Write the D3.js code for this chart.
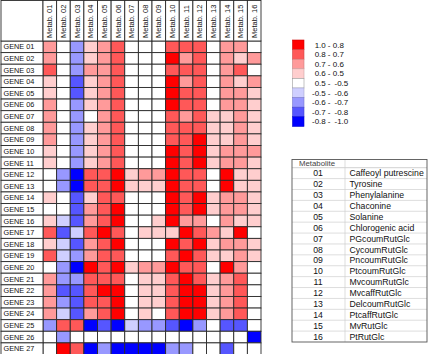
<!DOCTYPE html>
<html lang="en">
<head>
<meta charset="UTF-8">
<script src="https://d3js.org/d3.v7.min.js"></script>
<title>Gene / metabolite correlation heatmap</title>
<style>
  body { margin: 0; background: #fff; }
  text { font-family: "Liberation Sans", Arial, sans-serif; fill: #111; }
</style>
</head>
<body>
<div id="chart"></div>
<script>
// metabolite ids (columns) and their names (table on the right)
const metabIds = ["01","02","03","04","05","06","07","08","09","10","11","12","13","14","15","16"];
const metabNames = ["Caffeoyl putrescine","Tyrosine","Phenylalanine","Chaconine","Solanine",
  "Chlorogenic acid","PGcoumRutGlc","CycoumRutGlc","PncoumRutGlc","PtcoumRutGlc",
  "MvcoumRutGlc","MvcaffRutGlc","DelcoumRutGlc","PtcaffRutGlc","MvRutGlc","PtRutGlc"];

const genes = ["GENE 01","GENE 02","GENE 03","GENE 04","GENE 05","GENE 06","GENE 07","GENE 08","GENE 09",
  "GENE 10","GENE 11","GENE 12","GENE 13","GENE 14","GENE 15","GENE 16","GENE 17","GENE 18",
  "GENE 19","GENE 20","GENE 21","GENE 22","GENE 23","GENE 24","GENE 25","GENE 26","GENE 27"];

// correlation per gene (row) x metabolite (column)
const corr = [
  [.65,0,-.65,.55,.65,.75,0,0,0,.75,.75,.75,0,.65,.65,0],
  [.65,0,-.65,.55,.65,.75,0,0,0,.86,.65,.75,0,.65,.55,.65],
  [.75,0,-.65,.65,.65,.75,0,0,0,.75,.75,.75,0,.65,.75,0],
  [.55,0,-.75,.55,.65,.75,0,0,0,.86,.65,.75,0,.65,.55,.65],
  [.55,0,-.75,.55,.65,.75,0,0,0,.86,.75,.75,0,.65,.65,.55],
  [.65,0,-.65,.55,.65,.75,0,0,0,.86,.75,.75,0,.65,.65,.55],
  [.65,0,-.65,0,.65,.75,0,0,0,.75,.65,.75,.55,.55,.65,.55],
  [.65,0,-.65,.55,.65,.75,0,0,0,.75,.75,.75,.55,.55,.65,.55],
  [.65,0,-.65,.55,.65,.75,0,0,0,.75,.75,.86,.55,.55,.65,.55],
  [.55,0,-.65,.55,.65,.75,0,0,0,.86,.75,.86,.55,.65,.65,.65],
  [.55,0,-.65,.55,.65,.75,0,0,0,.86,.75,.86,.55,.65,.65,.55],
  [0,-.65,-.88,.75,.75,.86,.55,.65,.65,.86,.75,.75,0,.86,.55,.55],
  [0,-.65,-.88,.75,.75,.86,.55,.55,.55,.86,.75,.75,0,.86,.55,.55],
  [.55,0,-.75,.55,.75,.75,0,0,0,.86,.75,.86,.55,.65,.65,.55],
  [0,0,-.75,.65,.75,.86,0,0,0,.86,.75,.86,.55,.65,.65,.55],
  [.55,-.55,-.75,.65,.75,.86,0,0,.55,.86,.65,.65,0,.65,.55,.55],
  [.75,-.75,-.55,.75,.86,.75,0,.55,.55,.55,.86,.75,.65,.55,.86,0],
  [.55,-.55,-.75,.65,.75,.86,0,0,0,.86,.75,.86,.55,.65,.65,.55],
  [.75,-.55,-.65,.65,.75,.75,0,0,0,.75,.86,.75,.55,.55,.65,.55],
  [0,-.65,-.88,.86,.75,.86,.55,.65,.65,.86,.75,.75,0,.86,.65,0],
  [.65,-.65,-.65,.75,.75,.75,0,.55,.55,.75,.86,.75,.55,.65,.75,0],
  [.65,-.75,-.75,.75,.86,.86,0,.55,.55,.75,.86,.86,.55,.65,.75,0],
  [.65,-.65,-.75,.75,.75,.86,0,.55,.55,.75,.86,.86,.55,.65,.75,0],
  [.65,-.55,-.75,.65,.75,.86,0,.55,0,.75,.86,.86,.55,.65,.75,0],
  [-.65,.75,.75,-.88,-.75,-.88,-.55,-.65,-.65,-.75,-.88,-.65,0,-.75,-.75,0],
  [0,-.65,0,0,0,0,0,0,0,0,0,0,0,0,0,-.88],
  [0,.86,.75,-.88,-.65,-.88,-.88,-.88,-.88,-.65,-.65,0,0,-.75,0,0]
];

// colour classes, top (red) to bottom (blue)
const legendFrom = ["1.0","0.8","0.7","0.6","0.5","-0.5","-0.6","-0.7","-0.8"];
const legendTo   = ["0.8","0.7","0.6","0.5","-0.5","-0.6","-0.7","-0.8","-1.0"];
const classColors = ["#ff0000","#ff5858","#ff9a9a","#ffcece","#ffffff","#cfcfff","#9898ff","#5656ff","#0000ff"];

const W = 431, H = 354;
const svg = d3.select("#chart").append("svg")
    .attr("width", W).attr("height", H);

// scales
const x = d3.scaleBand().domain(metabIds).range([43, 261]);
const y = d3.scaleBand().domain(genes).range([41, 354.5]);
const color = d3.scaleThreshold()
    .domain([-0.8, -0.7, -0.6, -0.5, 0.5, 0.6, 0.7, 0.8])
    .range(classColors.slice().reverse());

const lineCol = "#2a2a2a";

// cells
const cells = [];
corr.forEach((row, i) => row.forEach((v, j) => cells.push({g: genes[i], m: metabIds[j], v: v})));

svg.append("g").selectAll("rect")
  .data(cells)
  .enter().append("rect")
    .attr("x", d => x(d.m))
    .attr("y", d => y(d.g))
    .attr("width", x.bandwidth())
    .attr("height", y.bandwidth())
    .attr("fill", d => color(d.v))
    .attr("stroke", lineCol)
    .attr("stroke-width", 0.9);

// row label cells
const rowG = svg.append("g");
rowG.selectAll("rect")
  .data(genes)
  .enter().append("rect")
    .attr("x", 1).attr("y", d => y(d))
    .attr("width", 42).attr("height", y.bandwidth())
    .attr("fill", "#fff").attr("stroke", lineCol).attr("stroke-width", 0.9);
rowG.selectAll("text")
  .data(genes)
  .enter().append("text")
    .attr("x", 3.5)
    .attr("y", d => y(d) + y.bandwidth() / 2)
    .attr("dy", "0.36em")
    .style("font-size", "7.3px")
    .text(d => d);

// header cells with rotated column labels
const headG = svg.append("g");
headG.append("rect")
    .attr("x", 1).attr("y", 0.5).attr("width", 42).attr("height", 40.5)
    .attr("fill", "#fff").attr("stroke", lineCol).attr("stroke-width", 0.9);
headG.selectAll("rect.h")
  .data(metabIds)
  .enter().append("rect")
    .attr("class", "h")
    .attr("x", d => x(d)).attr("y", 0.5)
    .attr("width", x.bandwidth()).attr("height", 40.5)
    .attr("fill", "#fff").attr("stroke", lineCol).attr("stroke-width", 0.9);
headG.selectAll("text")
  .data(metabIds)
  .enter().append("text")
    .attr("transform", d => "translate(" + (x(d) + x.bandwidth() / 2) + ",38) rotate(-90)")
    .attr("dy", "0.35em")
    .style("font-size", "7.5px")
    .text(d => "Metab. " + d);

// legend
const legY = d3.scaleBand().domain(d3.range(classColors.length)).range([40, 126.4]);
const legG = svg.append("g");
legG.selectAll("rect")
  .data(classColors)
  .enter().append("rect")
    .attr("x", 292.5).attr("y", (d, i) => legY(i))
    .attr("width", 11.5).attr("height", legY.bandwidth())
    .attr("fill", d => d)
    .attr("stroke", d => d === "#ffffff" ? "#999" : d3.color(d).darker(0.6))
    .attr("stroke-width", 0.6);
const legT = legG.selectAll("g.lab")
  .data(legendFrom)
  .enter().append("g")
    .attr("class", "lab")
    .attr("transform", (d, i) => "translate(0," + (legY(i) + legY.bandwidth() / 2) + ")");
legT.append("text")
    .attr("x", 325.8).attr("dy", "0.35em").attr("text-anchor", "end")
    .style("font-size", "8px")
    .text(d => d);
legT.append("text")
    .attr("x", 329).attr("dy", "0.35em").attr("text-anchor", "middle")
    .style("font-size", "8px")
    .text("-");
legT.append("text")
    .attr("x", (d, i) => legendTo[i][0] === "-" ? 334.5 : 332.8).attr("dy", "0.35em")
    .style("font-size", "8px")
    .text((d, i) => legendTo[i]);

// metabolite table
const tabX0 = 292, tabX1 = 345, tabX2 = 427;
const headTop = 159.5, headBot = 167.7;
const ty = d3.scaleBand().domain(metabIds).range([headBot, 342]);
const tabG = svg.append("g");
tabG.selectAll("line.r")
  .data(metabIds.slice(1))
  .enter().append("line")
    .attr("class", "r")
    .attr("x1", tabX0).attr("x2", tabX2)
    .attr("y1", d => ty(d)).attr("y2", d => ty(d))
    .attr("stroke", "#cfcfcf").attr("stroke-width", 0.7);
tabG.append("line")
    .attr("x1", tabX0).attr("x2", tabX2).attr("y1", headBot).attr("y2", headBot)
    .attr("stroke", "#bdbdbd").attr("stroke-width", 0.7);
tabG.append("line")
    .attr("x1", tabX1).attr("x2", tabX1).attr("y1", headTop).attr("y2", 342)
    .attr("stroke", "#cfcfcf").attr("stroke-width", 0.7);
tabG.append("rect")
    .attr("x", tabX0).attr("y", headTop)
    .attr("width", tabX2 - tabX0).attr("height", 342 - headTop)
    .attr("fill", "none").attr("stroke", "#555").attr("stroke-width", 0.9);
tabG.append("text")
    .attr("x", (tabX0 + tabX1) / 2 - 1.5).attr("y", (headTop + headBot) / 2)
    .attr("dy", "0.36em").attr("text-anchor", "middle")
    .style("font-size", "7.8px").style("fill", "#444")
    .text("Metabolite");
tabG.selectAll("text.id")
  .data(metabIds)
  .enter().append("text")
    .attr("class", "id")
    .attr("x", (tabX0 + tabX1) / 2 - 0.5)
    .attr("y", d => ty(d) + ty.bandwidth() / 2)
    .attr("dy", "0.36em").attr("text-anchor", "middle")
    .style("font-size", "8.7px")
    .text(d => d);
tabG.selectAll("text.nm")
  .data(metabNames)
  .enter().append("text")
    .attr("class", "nm")
    .attr("x", 349.5)
    .attr("y", (d, i) => ty(metabIds[i]) + ty.bandwidth() / 2)
    .attr("dy", "0.36em")
    .style("font-size", "8.7px")
    .text(d => d);
</script>
</body>
</html>
